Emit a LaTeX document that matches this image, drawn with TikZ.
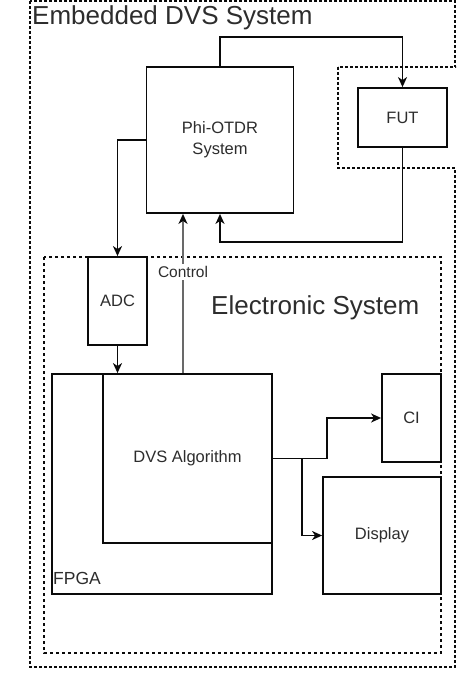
\documentclass[tikz,border=0pt]{standalone}
\usepackage{fontspec}
\setsansfont{Liberation Sans}
\usetikzlibrary{arrows.meta}

\definecolor{dvs@ink}{RGB}{10,10,10}
\definecolor{dvs@text}{RGB}{45,45,45}
\definecolor{dvs@ctrl}{RGB}{105,105,105}

\begin{document}
\begin{tikzpicture}[x=1pt, y=-1pt, font=\sffamily,
    box/.style={draw=dvs@ink, line width=1.8pt, fill=white, inner sep=0pt,
      text=dvs@text, align=center, font=\sffamily\fontsize{16.5}{21}\selectfont},
    region/.style={draw=dvs@ink, line width=1.4pt, dash pattern=on 3pt off 2pt},
    wire/.style={draw=dvs@ink, line width=1.7pt,
      -{Stealth[length=10pt, width=9pt, inset=3pt]}},
    title/.style={anchor=base west, inner sep=0pt, text=dvs@text,
      font=\sffamily\fontsize{26}{30}\selectfont}]
  \def\W{456}
  \def\H{690}

  % Page window in pixels (y runs down); the FUT region bleeds past the right edge
  \path[use as bounding box] (0,0) rectangle (\W,\H);
  \clip (0,0) rectangle (\W,\H);

  % ---- REGIONS ----
  \draw[region] (30,1) rectangle (455,667);
  \draw[region, fill=white] (338,67) rectangle (462,168);
  \draw[region, line width=1.1pt, dash pattern=on 3pt off 3pt] (44,257) rectangle (441,653);

  \node[title] (embtxt) at (32,25) {Embedded DVS System};
  \node[title] (eletxt) at (211,314) {Electronic System};

  % ---- BLOCKS ----
  \node[box, minimum width=147pt, minimum height=146pt] (phi) at (220,140) {Phi-OTDR\\System};
  \node[box, minimum width=89pt, minimum height=59pt] (fut) at (402.5,117.5) {FUT};
  \node[box, minimum width=59pt, minimum height=88pt] (adc) at (117.5,301) {ADC};
  \node[box, minimum width=220pt, minimum height=220pt] (fpga) at (162,484) {};
  \node[box, minimum width=169pt, minimum height=169pt] (dvs) at (187.5,458.5) {DVS Algorithm};
  \node[box, minimum width=59pt, minimum height=88pt] (ci) at (411.5,418) {CI};
  \node[box, minimum width=118pt, minimum height=117pt] (disp) at (382,535.5) {Display};

  % FPGA name sits in the free corner of its block
  \node[anchor=base west, inner sep=0pt, text=dvs@text, font=\sffamily\fontsize{17.5}{20}\selectfont]
    (fpgatxt) at (53,584) {FPGA};

  % ---- CONNECTORS ----
  % fibre loop: Phi-OTDR -> FUT -> back into Phi-OTDR
  \coordinate (loopT) at (220,37);
  \coordinate (loopB) at (220,242);
  \draw[wire] (phi.north) -- (loopT) -| (fut.north);
  \draw[wire] (fut.south) |- (loopB) -- (phi.south);

  % acquisition chain
  \draw[wire] (phi.west) -| (adc.north);
  \draw[wire] (adc.south) -- (adc.south |- dvs.north);

  % control back to the sensor
  \coordinate (ctrl) at (183,0);
  \draw[wire, draw=dvs@ctrl, -{Stealth[length=10pt, width=9pt, inset=3pt, dvs@ink]}]
    (ctrl |- dvs.north) -- node[pos=0.634, fill=white, inner sep=2pt, text=dvs@text,
      font=\sffamily\fontsize{15.5}{18}\selectfont] (ctrltxt) {Control} (ctrl |- phi.south);

  % outputs
  \draw[wire] (dvs.east) -- ++(54,0) |- (ci.west);
  \draw[wire] (dvs.east) -- ++(29,0) |- (disp.west);
\end{tikzpicture}
\end{document}
